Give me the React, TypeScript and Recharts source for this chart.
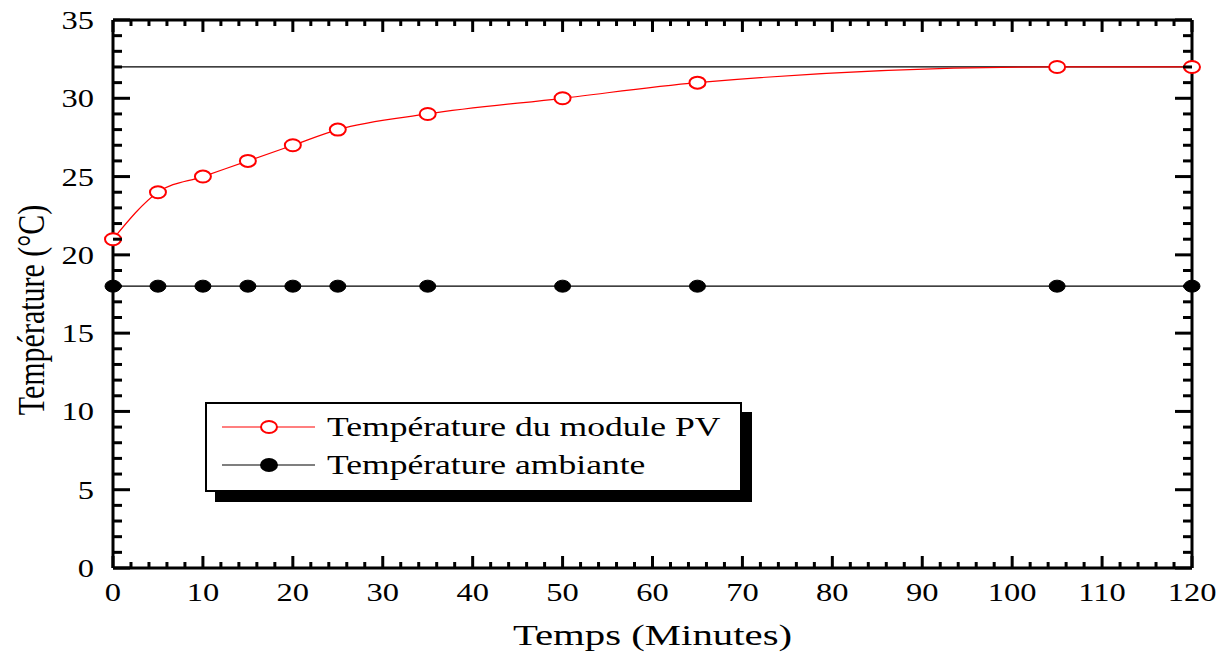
import { Legend, Line, LineChart, ReferenceLine, XAxis, YAxis } from 'recharts';

const TIMES = [0, 5, 10, 15, 20, 25, 35, 50, 65, 105, 120];
const MODULE_TEMP = [21, 24, 25, 26, 27, 28, 29, 30, 31, 32, 32];
const AMBIENT_TEMP = [18, 18, 18, 18, 18, 18, 18, 18, 18, 18, 18];
const X_TICKS = Array.from({ length: 61 }, (_, i) => i * 2);
const Y_TICKS = Array.from({ length: 36 }, (_, i) => i);
const STEADY_LINE = 32;

const data = TIMES.map((t, i) => ({ t, module: MODULE_TEMP[i], ambient: AMBIENT_TEMP[i] }));

const FONT = '"Liberation Serif", "Times New Roman", serif';
const STRETCH = 1.25; // the source figure is drawn wider than tall

const XTick = (props: any) => {
  const { x, y, payload, top } = props;
  const major = payload.value % 10 === 0;
  const len = major ? 12 : 6;
  return (
    <g>
      <line x1={x} x2={x} y1={y} y2={top ? y + len : y - len} stroke="#000" strokeWidth={3} />
      {!top && major && (
        <text
          transform={`translate(${x} ${y + 33}) scale(${STRETCH} 1)`}
          textAnchor="middle"
          fontFamily={FONT}
          fontSize={26}
          fill="#000"
        >
          {payload.value}
        </text>
      )}
    </g>
  );
};

const YTick = (props: any) => {
  const { x, y, payload, right } = props;
  const major = payload.value % 5 === 0;
  const len = major ? 17 : 9;
  return (
    <g>
      <line x1={x} x2={right ? x - len : x + len} y1={y} y2={y} stroke="#000" strokeWidth={3} />
      {!right && major && (
        <text
          transform={`translate(${x - 19} ${y + 9}) scale(${STRETCH} 1)`}
          textAnchor="end"
          fontFamily={FONT}
          fontSize={26}
          fill="#000"
        >
          {payload.value}
        </text>
      )}
    </g>
  );
};

const OpenDot = (props: any) => (
  <ellipse key={props.index} cx={props.cx} cy={props.cy} rx={8} ry={6} fill="#fff" stroke="#ff0000" strokeWidth={2} />
);

const FilledDot = (props: any) => (
  <ellipse key={props.index} cx={props.cx} cy={props.cy} rx={8} ry={6} fill="#000" stroke="#000" strokeWidth={1} />
);

const LegendBox = () => {
  const rows = [
    { label: 'Température du module PV', color: '#ff0000', filled: false },
    { label: 'Température ambiante', color: '#000', filled: true },
  ];
  return (
    <div
      style={{
        width: 533,
        height: 82,
        border: '2px solid #000',
        background: '#fff',
        boxShadow: '10px 10px 0 #000',
        fontFamily: FONT,
        fontSize: 28,
        color: '#000',
        paddingTop: 4,
        boxSizing: 'content-box',
        overflow: 'hidden',
      }}
    >
      {rows.map((r) => (
        <div key={r.label} style={{ display: 'flex', alignItems: 'center', height: 38, whiteSpace: 'nowrap' }}>
          <svg width={120} height={20} style={{ flex: 'none' }}>
            <line x1={15} x2={108} y1={10} y2={10} stroke={r.color} strokeWidth={1.2} />
            <ellipse cx={62} cy={10} rx={8} ry={6} fill={r.filled ? '#000' : '#fff'} stroke={r.color} strokeWidth={2} />
          </svg>
          <span style={{ display: 'inline-block', transform: `scaleX(${STRETCH + 0.02})`, transformOrigin: 'left center' }}>
            {r.label}
          </span>
        </div>
      ))}
    </div>
  );
};

const XTitle = ({ viewBox }: any) => (
  <text
    transform={`translate(${viewBox.x + viewBox.width / 2} ${viewBox.y + 77}) scale(1.36 1)`}
    textAnchor="middle"
    fontFamily={FONT}
    fontSize={30}
    fill="#000"
  >
    Temps (Minutes)
  </text>
);

const YTitle = () => {
  const cx = 31;
  const cy = 310;
  return (
    <text
      transform={`translate(${cx} ${cy}) scale(${STRETCH} 1) rotate(-90)`}
      textAnchor="middle"
      dominantBaseline="central"
      fontFamily={FONT}
      fontSize={30}
      fill="#000"
    >
      Température (°C)
    </text>
  );
};

export default function App() {
  return (
    <div style={{ position: 'fixed', left: 0, top: 0, width: 1227, height: 654, background: '#fff' }}>
      <LineChart width={1227} height={654} data={data} margin={{ top: 19, right: 34, left: 0, bottom: 0 }}>
        <XAxis
          dataKey="t"
          type="number"
          domain={[0, 120]}
          ticks={X_TICKS}
          interval={0}
          height={86}
          tickSize={0}
          tickMargin={0}
          axisLine={{ stroke: '#000', strokeWidth: 3 }}
          tickLine={false}
          tick={(p: any) => <XTick {...p} />}
          label={<XTitle />}
        />
        <XAxis
          xAxisId="top"
          orientation="top"
          dataKey="t"
          type="number"
          domain={[0, 120]}
          ticks={X_TICKS}
          interval={0}
          height={1}
          tickSize={0}
          tickMargin={0}
          axisLine={false}
          tickLine={false}
          tick={(p: any) => <XTick {...p} top />}
        />
        <YAxis
          type="number"
          domain={[0, 35]}
          ticks={Y_TICKS}
          interval={0}
          width={113}
          tickSize={0}
          tickMargin={0}
          axisLine={{ stroke: '#000', strokeWidth: 3 }}
          tickLine={false}
          tick={(p: any) => <YTick {...p} />}
          label={<YTitle />}
        />
        <YAxis
          yAxisId="right"
          orientation="right"
          type="number"
          domain={[0, 35]}
          ticks={Y_TICKS}
          interval={0}
          width={1}
          tickSize={0}
          tickMargin={0}
          axisLine={false}
          tickLine={false}
          tick={(p: any) => <YTick {...p} right />}
        />
        <ReferenceLine y={STEADY_LINE} stroke="#000" strokeWidth={1.3} />
        <ReferenceLine y={35} stroke="#000" strokeWidth={3} />
        <ReferenceLine x={120} stroke="#000" strokeWidth={3} />
        {/* invisible series so the mirrored top/right axes are drawn */}
        <Line
          xAxisId="top"
          yAxisId="right"
          dataKey="module"
          stroke="none"
          dot={false}
          legendType="none"
          isAnimationActive={false}
        />
        <Line
          dataKey="ambient"
          name="Température ambiante"
          type="linear"
          stroke="#000"
          strokeWidth={1.3}
          dot={FilledDot}
          isAnimationActive={false}
        />
        <Line
          dataKey="module"
          name="Température du module PV"
          type="monotone"
          stroke="#ff0000"
          strokeWidth={1.2}
          dot={OpenDot}
          isAnimationActive={false}
        />
        <Legend
          layout="vertical"
          align="center"
          verticalAlign="middle"
          wrapperStyle={{ left: 205, top: 402, width: 'auto' }}
          content={() => <LegendBox />}
        />
      </LineChart>
    </div>
  );
}
